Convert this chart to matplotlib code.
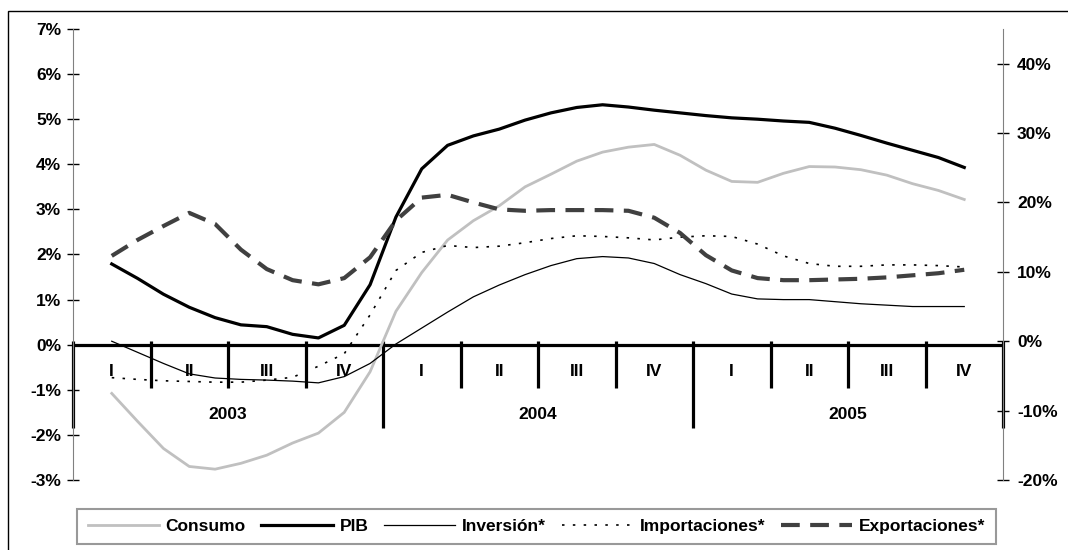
import numpy as np
import matplotlib
matplotlib.use('Agg')
import matplotlib.pyplot as plt
from matplotlib.patches import Rectangle

# ---- data (monthly, mid-Q1 2003 .. mid-Q4 2005) ----
years = ['2003', '2004', '2005']
quarters = ['I', 'II', 'III', 'IV']

consumo = [-1.08, -1.70, -2.30, -2.70, -2.76, -2.63, -2.45, -2.18, -1.96, -1.50,
           -0.60, 0.74, 1.60, 2.32, 2.75, 3.08, 3.50, 3.78, 4.07, 4.27,
           4.38, 4.44, 4.20, 3.87, 3.62, 3.60, 3.80, 3.95, 3.94, 3.88,
           3.76, 3.57, 3.42, 3.22]
pib = [1.79, 1.47, 1.12, 0.83, 0.60, 0.44, 0.40, 0.23, 0.15, 0.43,
       1.33, 2.83, 3.90, 4.42, 4.63, 4.78, 4.98, 5.14, 5.26, 5.32,
       5.27, 5.20, 5.14, 5.08, 5.03, 5.00, 4.96, 4.93, 4.80, 4.64,
       4.47, 4.31, 4.15, 3.93]
inversion = [0.0, -1.6, -3.2, -4.7, -5.3, -5.5, -5.6, -5.75, -6.0, -5.1,
             -3.2, -0.4, 1.9, 4.2, 6.4, 8.1, 9.6, 10.9, 11.9, 12.2,
             12.0, 11.2, 9.6, 8.3, 6.8, 6.1, 6.0, 6.0, 5.7, 5.4,
             5.2, 5.0, 5.0, 5.0]
importaciones = [-5.25, -5.5, -5.7, -5.8, -5.9, -5.9, -5.6, -5.2, -3.6, -1.8,
                 3.8, 10.2, 12.8, 13.8, 13.5, 13.7, 14.2, 14.8, 15.2, 15.1,
                 14.9, 14.6, 15.0, 15.2, 15.1, 14.0, 12.3, 11.2, 10.8, 10.8,
                 11.0, 11.0, 10.9, 10.7]
exportaciones = [12.3, 14.6, 16.6, 18.5, 16.9, 13.2, 10.4, 8.8, 8.2, 9.1,
                 12.1, 17.4, 20.7, 21.1, 20.0, 19.0, 18.8, 18.9, 18.9, 18.9,
                 18.8, 17.8, 15.6, 12.4, 10.2, 9.1, 8.8, 8.8, 8.9, 9.0,
                 9.2, 9.5, 9.8, 10.3]

left_ticks = [-3, -2, -1, 0, 1, 2, 3, 4, 5, 6, 7]
right_ticks = [-20, -10, 0, 10, 20, 30, 40]
legend_labels = ['Consumo', 'PIB', 'Inversión*', 'Importaciones*', 'Exportaciones*']

plt.rcParams['font.family'] = ['Liberation Sans', 'DejaVu Sans']
plt.rcParams['font.weight'] = 'bold'
FS = 12.5

W, H = 1068, 550
fig = plt.figure(figsize=(W / 100, H / 100), dpi=100)
ax = fig.add_axes([73 / W, 1 - 480 / H, 930 / W, 451 / H])
ax2 = ax.twinx()

n_months = 12 * len(years)
x = np.arange(len(pib)) + 1.5

ax.set_xlim(0, n_months)
ax.set_ylim(-3, 7)
ax2.set_ylim(-20, 45)

# category axis at 0
ax.axhline(0, color='black', lw=2.3, zorder=1)
for q in range(0, n_months + 1, 3):
    low = -1.84 if q % 12 == 0 else -0.96
    ax.plot([q, q], [0.09, low], color='black', lw=2.3, solid_capstyle='butt', zorder=1, clip_on=False)
for i, yr in enumerate(years):
    for j, ql in enumerate(quarters):
        ax.text(12 * i + 3 * j + 1.5, -0.6, ql, ha='center', va='center', fontsize=FS, fontweight='bold')
    ax.text(12 * i + 6, -1.55, yr, ha='center', va='center', fontsize=FS, fontweight='bold')

l1, = ax.plot(x, consumo, color='#c0c0c0', lw=2.0, zorder=3)
l2, = ax.plot(x, pib, color='black', lw=2.3, zorder=3)
l3, = ax2.plot(x, inversion, color='black', lw=0.9)
l4, = ax2.plot(x, importaciones, color='black', lw=1.2, dashes=(1.5, 5))
l5, = ax2.plot(x, exportaciones, color='#404040', lw=3.0, dashes=(4.5, 2.5))

for a in (ax, ax2):
    for s in ('top', 'bottom'):
        a.spines[s].set_visible(False)
ax.spines['right'].set_visible(False)
ax2.spines['left'].set_visible(False)
ax.spines['left'].set_color('#808080')
ax2.spines['right'].set_color('#808080')
ax.set_xticks([])

ax.set_yticks(left_ticks)
ax.set_yticklabels([f'{t}%' for t in left_ticks])
ax2.set_yticks(right_ticks)
ax2.set_yticklabels([f'{t}%' for t in right_ticks])
ax.tick_params(axis='y', direction='inout', length=8, width=1, color='black', pad=4.5, labelsize=FS)
ax2.tick_params(axis='y', direction='inout', length=8, width=1, color='black', pad=6, labelsize=FS)
for lab in ax.get_yticklabels() + ax2.get_yticklabels():
    lab.set_fontweight('bold')

leg = fig.legend([l1, l2, l3, l4, l5], legend_labels, loc='center',
                 bbox_to_anchor=((83 + 990) / 2 / W, 1 - 526.5 / H),
                 ncol=5, fontsize=FS, frameon=True, fancybox=False, borderaxespad=0,
                 handlelength=4.1, handletextpad=0.4, columnspacing=0.9, borderpad=0.6)
leg.get_frame().set_edgecolor('#808080')
leg.get_frame().set_linewidth(1.5)
for t in leg.get_texts():
    t.set_fontweight('bold')

fig.patches.append(Rectangle((8 / W, -0.1), 1.2, 1.1 - 11 / H, transform=fig.transFigure,
                             fill=False, edgecolor='black', lw=1, clip_on=False))

fig.savefig('out.png', dpi=100)
